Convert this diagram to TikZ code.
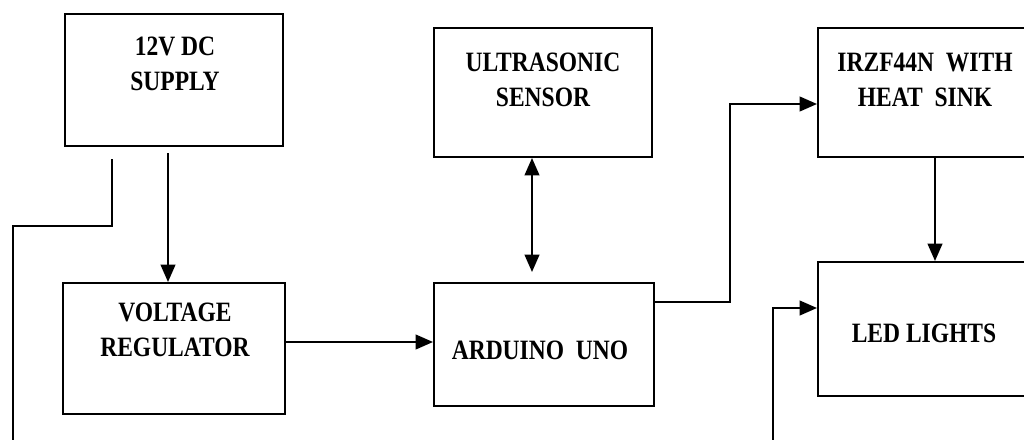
\documentclass[tikz,border=0pt]{standalone}
\usepackage{fontspec}
\setmainfont{Liberation Serif}
\newfontfamily\blockfont[FakeStretch=0.84]{Liberation Serif}
\usetikzlibrary{arrows.meta,calc}

\begin{document}
\begin{tikzpicture}[x=0.75pt,y=-0.75pt,
    blk/.style={draw, line width=1.5pt, inner sep=0pt},
    lbl/.style={font=\blockfont\bfseries\fontsize{21}{26}\selectfont, align=center, inner sep=0pt},
    wire/.style={line width=1.5pt},
    tip/.style={-{Triangle[length=13pt,width=11pt]}},
    tips/.style={{Triangle[length=13pt,width=11pt]}-{Triangle[length=13pt,width=11pt]}}]
    \useasboundingbox (0,0) rectangle (1024,439);
    \clip (0,0) rectangle (1024,439);

    % blocks
    \node[blk, minimum width=163.5pt, minimum height=99pt]    (supply)  at (174,80)    {};
    \node[blk, minimum width=166.5pt, minimum height=98.25pt] (reg)     at (174,348.5) {};
    \node[blk, minimum width=163.5pt, minimum height=96.75pt] (sensor)  at (543,92.5)  {};
    \node[blk, minimum width=165pt,   minimum height=92.25pt] (arduino) at (544,344.5) {};
    \node[blk, minimum width=160.5pt, minimum height=96.75pt] (irz)     at (925,92.5)  {};
    \node[blk, minimum width=160.5pt, minimum height=100.5pt] (led)     at (925,329)   {};

    % texts
    \node[lbl] (supplytxt)  at (175,64)  {12V DC\\SUPPLY};
    \node[lbl] (regtxt)     at (175,330) {VOLTAGE\\REGULATOR};
    \node[lbl] (sensortxt)  at (543,80)  {ULTRASONIC\\SENSOR};
    \node[lbl] (arduinotxt) at (540,350) {ARDUINO~ UNO};
    \node[lbl] (irztxt)     at (925,80)  {IRZF44N~ WITH\\HEAT~ SINK};
    \node[lbl] (ledtxt)     at (924,333) {LED LIGHTS};

    % free ends
    \coordinate (supout) at ($(supply.south)+(-6,6)$);
    \coordinate (regout) at ($(reg.east)+(0,-6.5)$);
    \coordinate (gnd)    at (13,440);
    \coordinate (jn)     at (730,104);
    \coordinate (ledin)  at (773,440);

    % connections
    \draw[wire,tip] (supout) -- (supout |- reg.north);
    \draw[wire] ($(supply.south)+(-62,12)$) -- ++(0,67) -| (gnd);
    \draw[wire,tips] ($(sensor.south)+(-11,0)$) -- ($(arduino.north)+(-12,-10)$);
    \draw[wire,tip] (regout) -- (regout -| arduino.west);
    \draw[wire,tip] ($(arduino.east)+(0,-42.5)$) -| (jn) -- (jn -| irz.west);
    \draw[wire,tip] ($(irz.south)+(10,0)$) -- ($(led.north)+(10,0)$);
    \draw[wire,tip] (ledin) |- ($(led.west)+(0,-21)$);
\end{tikzpicture}
\end{document}
